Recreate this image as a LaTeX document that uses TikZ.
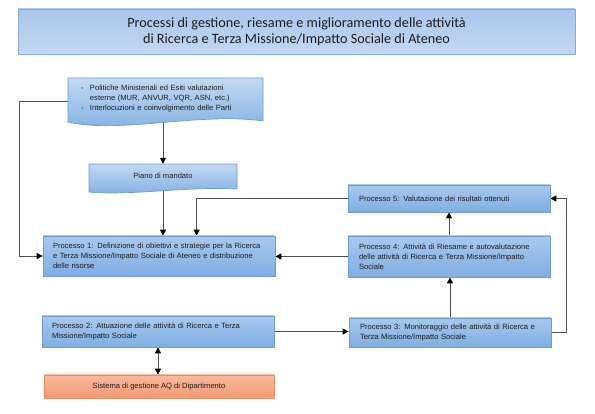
\documentclass[tikz,border=0pt]{standalone}
\usepackage{fontspec}
\setmainfont{Liberation Sans}
\newfontfamily\titlefont{Carlito}
\usetikzlibrary{arrows.meta,calc}
\pgfdeclarelayer{conn}
\pgfdeclarelayer{shp}
\pgfsetlayers{conn,shp,main}
\definecolor{btop}{HTML}{A8C9EE}
\definecolor{bbot}{HTML}{80AEE2}
\definecolor{bbord}{HTML}{6E9CD3}
\definecolor{ttop}{HTML}{A9C6EC}
\definecolor{tbot}{HTML}{C2D7F1}
\definecolor{tbord}{HTML}{86AAD9}
\definecolor{otop}{HTML}{F8BA9C}
\definecolor{obot}{HTML}{F29874}
\definecolor{obord}{HTML}{E88F5E}
\definecolor{linec}{HTML}{505050}
\definecolor{txt}{HTML}{1E1E1E}
\newcommand\bodyfont{\fontsize{7.6}{10}\selectfont}
\tikzset{
  pbox/.style={draw=bbord, line width=0.7pt, top color=btop, bottom color=bbot, inner sep=0pt, font=\bodyfont, text=txt, align=left},
  obox/.style={draw=obord, line width=0.7pt, top color=otop, bottom color=obot, inner sep=0pt, font=\bodyfont, text=txt, align=center},
  titlebox/.style={draw=tbord, line width=0.7pt, top color=ttop, bottom color=tbot, inner sep=0pt, font=\titlefont\fontsize{14.2}{15.5}\selectfont, text=txt, align=center},
  txtonly/.style={inner sep=0pt, font=\bodyfont, text=txt},
  wavebox/.style={draw=bbord, line width=0.7pt, top color=btop!70!white, bottom color=bbot},
  conn/.style={draw=linec, line width=0.8pt, -{Triangle[length=6pt,width=6pt,color=black]}},
}
\begin{document}
\begin{tikzpicture}[x=1pt,y=-1pt]
\useasboundingbox (0,0) rectangle (595,414);

\node[titlebox, minimum width=557pt, minimum height=45pt] (title) at (296.5,31.5)
  {Processi di gestione, riesame e miglioramento delle attività\\di Ricerca e Terza Missione/Impatto Sociale di Ateneo};

\node[txtonly, minimum width=195pt, minimum height=41pt, text width=169pt, align=left] (doc) at (165.5,98.5)
  {\makebox[9pt][l]{-}Politiche Ministeriali ed Esiti valutazioni\\
   \hspace*{9pt}\makebox[146pt][s]{esterne (MUR, ANVUR, VQR, ASN, etc.)}\\
   \makebox[9pt][l]{-}Interlocuzioni e coinvolgimento delle Parti};

\node[txtonly, minimum width=148pt, minimum height=24pt, align=center] (piano) at (163,176) {Piano di mandato};

\node[pbox, minimum width=232pt, minimum height=40pt, text width=212pt] (p1) at (159,256)
  {Processo 1: Definizione di obiettivi e strategie per la Ricerca\\
   e Terza Missione/Impatto Sociale di Ateneo e distribuzione\\
   delle risorse};

\node[pbox, minimum width=232pt, minimum height=31pt, text width=212pt] (p2) at (158,331.5)
  {\makebox[211pt][s]{Processo 2: Attuazione delle attività di Ricerca e Terza}\\
   Missione/Impatto Sociale};

\node[obox, minimum width=230pt, minimum height=23pt] (aq) at (159,386.5)
  {Sistema di gestione AQ di Dipartimento};

\node[pbox, minimum width=202pt, minimum height=29pt, text width=180pt] (p3) at (450,332.5)
  {Processo 3: Monitoraggio delle attività di Ricerca e\\
   Terza Missione/Impatto Sociale};

\node[pbox, minimum width=202pt, minimum height=41pt, text width=180pt] (p4) at (449,256.5)
  {\makebox[180pt][s]{Processo 4: Attività di Riesame e autovalutazione}\\
   \makebox[180pt][s]{delle attività di Ricerca e Terza Missione/Impatto}\\
   Sociale};

\node[pbox, minimum width=202pt, minimum height=27pt, text width=180pt] (p5) at (449,198.5)
  {Processo 5: Valutazione dei risultati ottenuti};

\begin{pgfonlayer}{shp}
  \path[wavebox] (68,78) -- (263,78) -- (263,121) .. controls (200,112) and (120,134) .. (68,122) -- cycle;
  \path[wavebox] (89,164) -- (237,164) -- (237,189) .. controls (190,186) and (130,196) .. (89,192) -- cycle;
\end{pgfonlayer}

\begin{pgfonlayer}{conn}
  \draw[conn] (piano.north |- doc.south) -- (piano.north);
  \draw[conn] (piano.south) -- (piano.south |- p1.north);
  \draw[conn] ($(doc.west)+(0,3)$) -| ($(p1.west)+(-23,0)$) -- (p1.west);
  \draw[conn] (p5.west) -| ($(p1.north west)+(154,0)$);
  \draw[conn] (p4.west) -- (p4.west -| p1.east);
  \draw[conn] (p4.north) -- (p5.south);
  \draw[conn] (p3.north) -- (p3.north |- p4.south);
  \draw[conn] (p3.east) -| ($(p5.east)+(16,0)$) -- (p5.east);
  \draw[conn] (p2.east) -- (p2.east -| p3.west);
  \draw[conn, {Triangle[length=6pt,width=6pt,color=black]}-{Triangle[length=6pt,width=6pt,color=black]}] (p2.south) -- (p2.south |- aq.north);
\end{pgfonlayer}
\end{tikzpicture}
\end{document}
